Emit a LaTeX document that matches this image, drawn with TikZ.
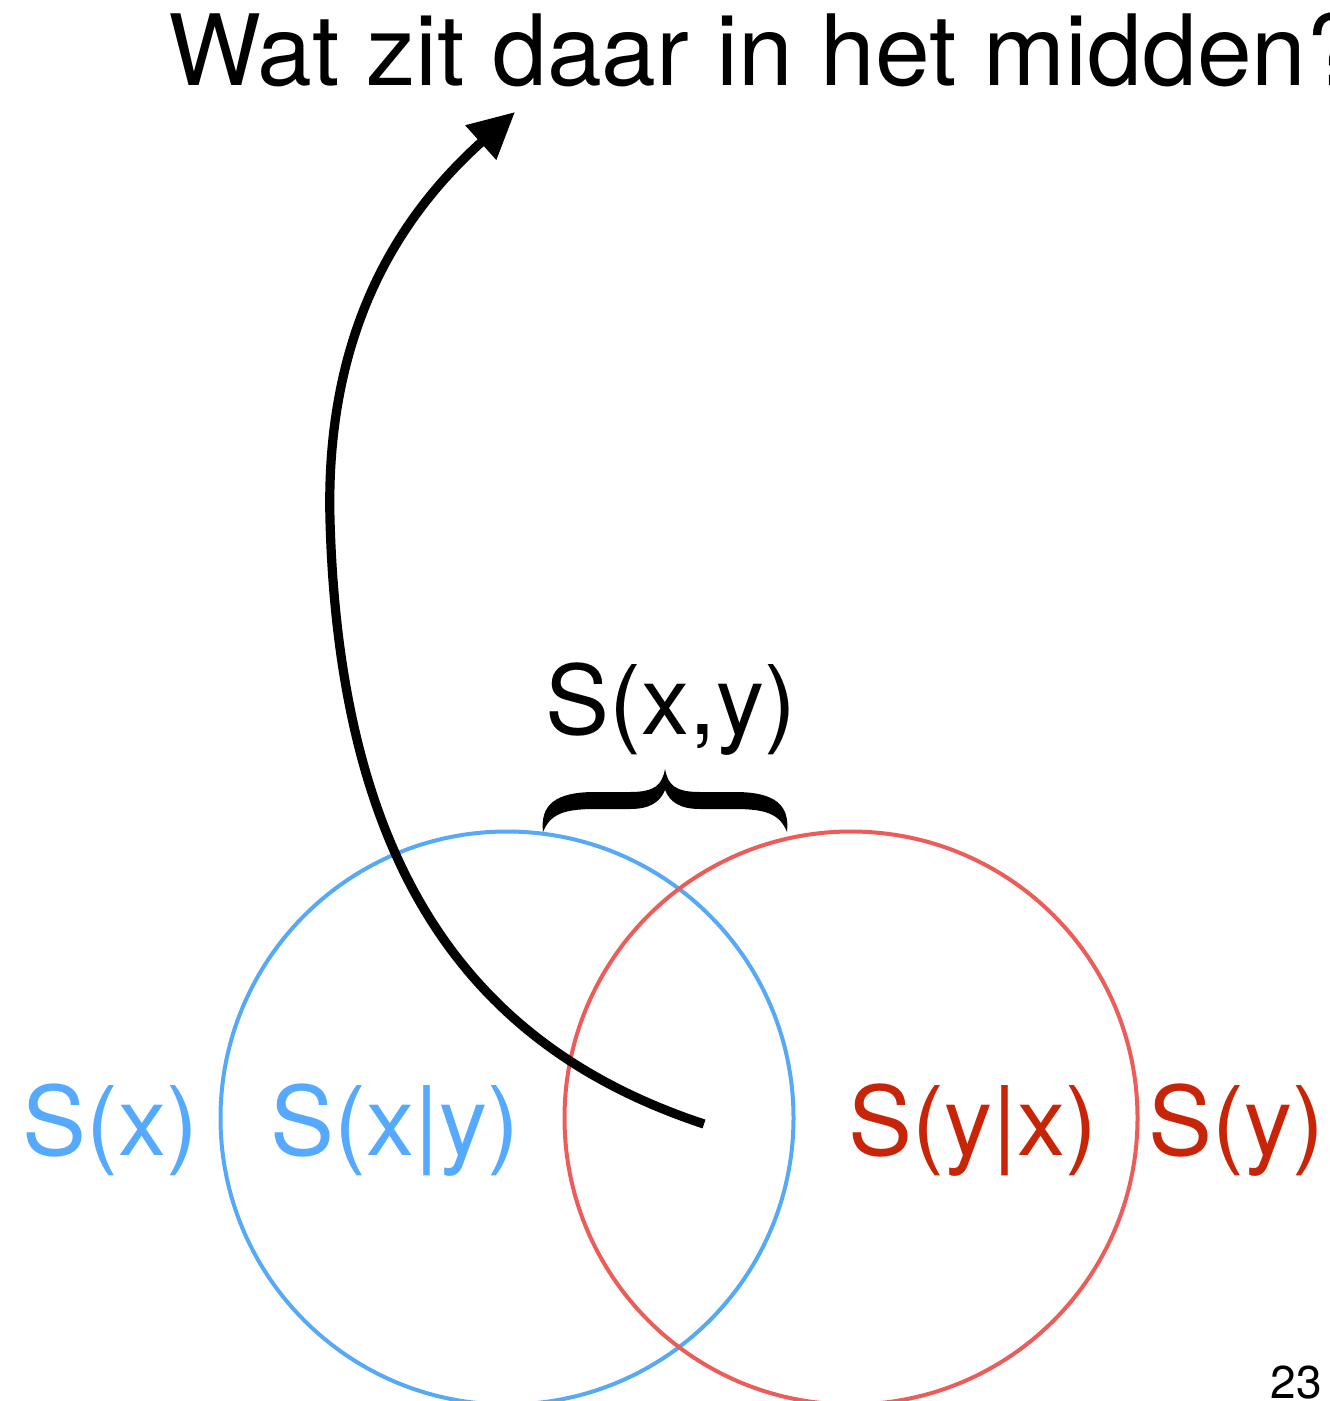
\documentclass[tikz,border=0pt]{standalone}
\usepackage{fontspec}
\setmainfont{TeX Gyre Heros}
\usetikzlibrary{arrows.meta}
\definecolor{bluec}{HTML}{56A9F7}
\definecolor{bluet}{HTML}{55AAFF}
\definecolor{redc}{HTML}{EC5C58}
\definecolor{redt}{HTML}{C82508}
\tikzset{
  lbl/.style={inner sep=0pt, anchor=base west, font=\fontsize{48}{56}\selectfont},
  venn/.style={line width=2pt},
}
\begin{document}
\begin{tikzpicture}[x=0.5pt,y=-0.5pt]
\useasboundingbox (0,0) rectangle (1329,1401);
% circles
\node[venn, draw=bluec, circle, minimum size=573pt*0.5, inner sep=0pt] (cx) at (507,1118) {};
\node[venn, draw=redc, circle, minimum size=573pt*0.5, inner sep=0pt] (cy) at (851,1118) {};
% title
\node[lbl, font=\fontsize{49.2}{58}\selectfont] (title) at (168,86) {Wat zit daar in het midden?};
% S(x,y)
\node[lbl] (sxy) at (545,734) {S(x,y)};
% labels
\node[lbl, text=bluet] (sx) at (22,1155) {S(x)};
\node[lbl, text=bluet] (sxgy) at (270,1155) {S(x|y)};
\node[lbl, text=redt] (sygx) at (848,1155) {S(y|x)};
\node[lbl, text=redt] (sy) at (1148,1155) {S(y)};
\node[inner sep=0pt, anchor=base east, font=\fontsize{23}{27}\selectfont] (pg) at (1322,1398) {23};
% brace
\fill (543,832) .. controls (540,805) and (555,792) .. (595,792)
  -- (630,792) .. controls (655,792) and (662,785) .. (665,769)
  .. controls (668,785) and (675,792) .. (700,792)
  -- (735,792) .. controls (775,792) and (790,805) .. (787,832)
  .. controls (780,815) and (768,809) .. (735,809)
  -- (700,809) .. controls (680,809) and (670,802) .. (665,790)
  .. controls (660,802) and (650,809) .. (630,809)
  -- (595,809) .. controls (562,809) and (550,815) .. (543,832) -- cycle;
% arrow
\coordinate (a0) at (704,1124);
\coordinate (a1) at (330,520);
\coordinate (a2) at (515,112);
\draw[line width=4.6pt, -{Triangle[length=23pt,width=22pt]}]
  (a0) .. controls (480,1050) and (340,880) .. (a1)
  .. controls (325,330) and (400,215) .. (a2);
\end{tikzpicture}
\end{document}
